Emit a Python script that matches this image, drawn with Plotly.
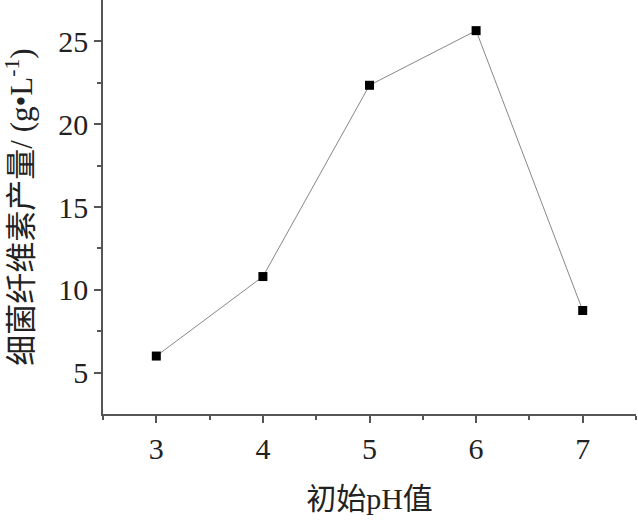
import plotly.graph_objects as go

ph = [3, 4, 5, 6, 7]
yield_vals = [6.0, 10.8, 22.35, 25.65, 8.75]
x_ticks = [3, 4, 5, 6, 7]
y_ticks = [5, 10, 15, 20, 25]

font_fam = "Liberation Serif, Noto Sans CJK SC, serif"

fig = go.Figure()
fig.add_trace(go.Scatter(
    x=ph, y=yield_vals, mode="lines+markers",
    line=dict(color="#888888", width=1),
    marker=dict(symbol="square", size=9, color="black"),
    showlegend=False,
))

fig.update_layout(
    width=638, height=523,
    margin=dict(l=103, r=2, t=0, b=109),
    paper_bgcolor="white", plot_bgcolor="white",
    font=dict(family=font_fam, size=30, color="#222222"),
    xaxis=dict(
        range=[2.5, 7.5], tickvals=x_ticks, ticks="outside", ticklen=7, tickwidth=1.5,
        tickcolor="#555555", showline=True, linecolor="#555555", linewidth=1.5,
        showgrid=False, zeroline=False,
        minor=dict(tickvals=[2.5, 3.5, 4.5, 5.5, 6.5, 7.5], ticks="outside", ticklen=4, tickcolor="#555555", tickwidth=1.5),
        title=dict(text="初始pH值", font=dict(size=30, family=font_fam), standoff=24),
        tickfont=dict(size=30, family=font_fam),
    ),
    yaxis=dict(
        range=[2.5, 27.5], tickvals=y_ticks, ticks="outside", ticklen=7, tickwidth=1.5,
        tickcolor="#555555", showline=True, linecolor="#555555", linewidth=1.5,
        showgrid=False, zeroline=False,
        minor=dict(tickvals=[7.5, 12.5, 17.5, 22.5], ticks="outside", ticklen=4, tickcolor="#555555", tickwidth=1.5),
        title=dict(text="细菌纤维素产量/ (g•L<sup>-1</sup>)", font=dict(size=31, family=font_fam), standoff=18),
        tickfont=dict(size=30, family=font_fam),
    ),
)

fig.write_html("out.html", config={"displayModeBar": False},
               post_script="document.body.style.margin='0';document.body.style.overflow='hidden';")
